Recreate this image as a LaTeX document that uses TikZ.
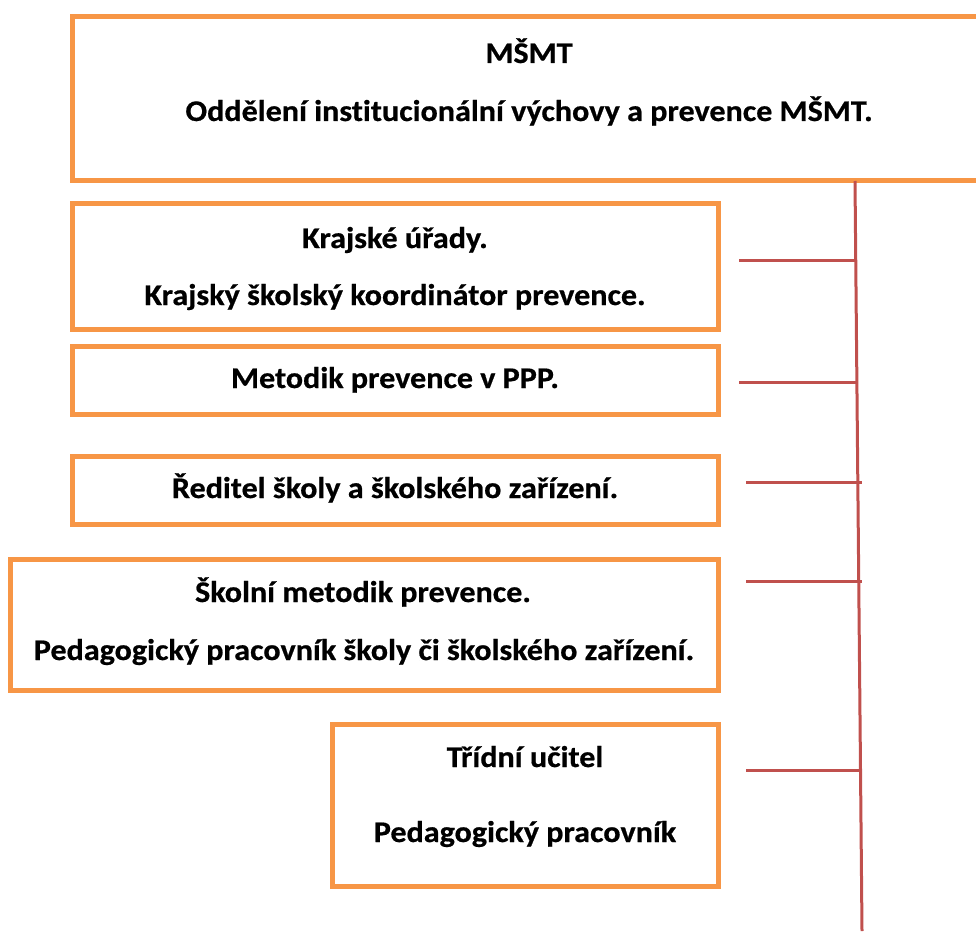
\documentclass[tikz,border=0pt]{standalone}
\usepackage{fontspec}
\setmainfont{Carlito}[Ligatures=NoCommon]
\newfontfamily\lblfont{Carlito}[Ligatures=NoCommon,UprightFont=*,BoldFeatures={FakeStretch=1.07,FakeBold=0.6}]
\definecolor{borange}{HTML}{F79646}
\definecolor{lred}{HTML}{C0504D}
\begin{document}
\begin{tikzpicture}[x=1pt,y=-1pt,
  box/.style={draw=borange,line width=5pt,rectangle,inner sep=0pt,outer sep=0pt,anchor=north west,fill=white},
  lbl/.style={font=\lblfont\bfseries\fontsize{30}{34}\selectfont,anchor=base,inner sep=0pt},
  conn/.style={draw=lred,line width=3pt}]
\useasboundingbox (0,0) rectangle (976,933);
\clip (0,0) rectangle (976,933);
% boxes
\node[box,minimum width=940pt,minimum height=164pt] (msmt) at (72,17) {};
\node[box,minimum width=646pt,minimum height=125pt] (kraj) at (72,204) {};
\node[box,minimum width=646pt,minimum height=68pt] (metod) at (72,346) {};
\node[box,minimum width=646pt,minimum height=68pt] (redit) at (72,456) {};
\node[box,minimum width=708pt,minimum height=131pt] (skol) at (10,559) {};
\node[box,minimum width=386pt,minimum height=162pt] (trid) at (332,724) {};
% texts
\node[lbl] (t1a) at (529,63) {MŠMT};
\node[lbl] (t1b) at (529,121) {Oddělení institucionální výchovy a prevence MŠMT.};
\node[lbl] (t2a) at (395,248) {Krajské úřady.};
\node[lbl] (t2b) at (395,305) {Krajský školský koordinátor prevence.};
\node[lbl] (t3) at (395,388) {Metodik prevence v PPP.};
\node[lbl] (t4) at (395,498) {Ředitel školy a školského zařízení.};
\node[lbl] (t5a) at (363,602) {Školní metodik prevence.};
\node[lbl] (t5b) at (364,660) {Pedagogický pracovník školy či školského zařízení.};
\node[lbl] (t6a) at (525,767) {Třídní učitel};
\node[lbl] (t6b) at (525,842) {Pedagogický pracovník};
% connector line
\coordinate (vt) at (855,181);
\coordinate (vb) at (862,931);
\draw[conn] (vt) -- (vb);
\coordinate (c1s) at (739,260); \coordinate (c1e) at (856,260);
\coordinate (c2s) at (739,382); \coordinate (c2e) at (857,382);
\coordinate (c3s) at (746,482); \coordinate (c3e) at (862,482);
\coordinate (c4s) at (746,581); \coordinate (c4e) at (862,581);
\coordinate (c5s) at (746,770); \coordinate (c5e) at (860,770);
\draw[conn] (c1s) -- (c1e);
\draw[conn] (c2s) -- (c2e);
\draw[conn] (c3s) -- (c3e);
\draw[conn] (c4s) -- (c4e);
\draw[conn] (c5s) -- (c5e);
\end{tikzpicture}
\end{document}
